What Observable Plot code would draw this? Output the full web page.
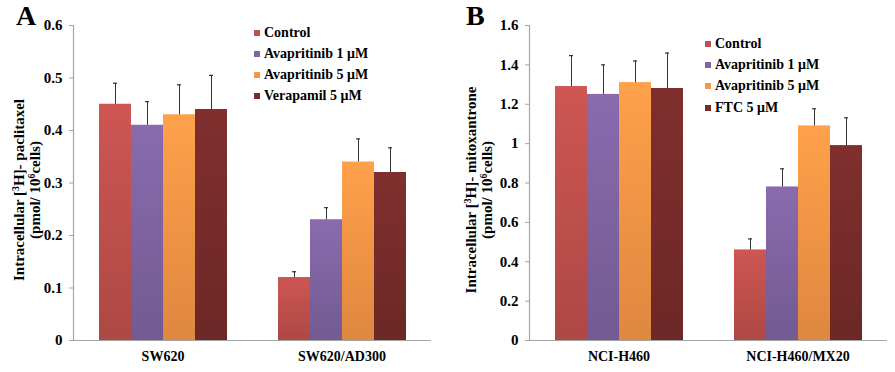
<!DOCTYPE html>
<html><head><meta charset="utf-8">
<script src="https://cdn.jsdelivr.net/npm/d3@7"></script>
<script src="https://cdn.jsdelivr.net/npm/@observablehq/plot@0.6"></script>
<style>
body{margin:0;background:#fff;font-family:"Liberation Serif","Times New Roman",serif;color:#000;}
#wrap{position:relative;width:895px;height:372px;overflow:hidden;}
.panel{position:absolute;top:0;height:372px;}
.letter{position:absolute;font-weight:bold;font-size:28px;line-height:1;}
.ylab{position:absolute;font-weight:bold;font-size:15px;line-height:16px;text-align:center;white-space:nowrap;transform:translate(-50%,-50%) rotate(-90deg);}
.ylab sup{font-size:0.65em;line-height:0;vertical-align:0.55em;}
.legend{position:absolute;font-weight:bold;font-size:14px;}
.legend .row{display:flex;align-items:center;height:21px;white-space:nowrap;}
.legend .sw{width:6px;height:6px;margin-right:4px;}
</style></head>
<body>
<div id="wrap"></div>
<script>
const groupsA = ["SW620", "SW620/AD300"];
const seriesA = ["Control", "Avapritinib 1 μM", "Avapritinib 5 μM", "Verapamil 5 μM"];
const valuesA = [[0.45, 0.41, 0.43, 0.44], [0.12, 0.23, 0.34, 0.32]];
const errorsA = [[0.04, 0.045, 0.057, 0.065], [0.011, 0.023, 0.044, 0.047]];
const yTicksA = [0, 0.1, 0.2, 0.3, 0.4, 0.5, 0.6];

const groupsB = ["NCI-H460", "NCI-H460/MX20"];
const seriesB = ["Control", "Avapritinib 1 μM", "Avapritinib 5 μM", "FTC 5 μM"];
const valuesB = [[1.29, 1.25, 1.31, 1.28], [0.46, 0.78, 1.09, 0.99]];
const errorsB = [[0.157, 0.15, 0.11, 0.18], [0.056, 0.092, 0.087, 0.141]];
const yTicksB = [0, 0.2, 0.4, 0.6, 0.8, 1, 1.2, 1.4, 1.6];

const colors = ["#c0504d", "#8064a2", "#f79646", "#772c2a"];

const wrap = d3.select("#wrap");
// gradient defs
const defs = wrap.append("svg").attr("width", 0).attr("height", 0)
  .style("position", "absolute").append("defs");
colors.forEach((c, i) => {
  const g = defs.append("linearGradient").attr("id", "g" + i)
    .attr("x1", 0).attr("y1", 0).attr("x2", 0).attr("y2", 1);
  g.append("stop").attr("offset", "0%").attr("stop-color", d3.color(c).brighter(0.2).formatHex());
  g.append("stop").attr("offset", "100%").attr("stop-color", d3.color(c).darker(0.3).formatHex());
});

function makePanel({groups, series, values, errors, ticks, width, marginLeft, marginRight}) {
  const rows = [];
  groups.forEach((g, i) => series.forEach((s, j) =>
    rows.push({group: g, series: s, value: values[i][j], err: errors[i][j]})));
  return Plot.plot({
    width, height: 372, marginLeft, marginRight, marginTop: 25, marginBottom: 32,
    style: {fontFamily: "'Liberation Serif', serif", fontSize: "14px", fontWeight: "bold", color: "#000", background: "transparent", overflow: "visible"},
    fx: {domain: groups, paddingInner: 0, paddingOuter: 0, label: null},
    x: {domain: series, paddingInner: 0, paddingOuter: 0.754, axis: null},
    y: {domain: [0, ticks[ticks.length - 1]], label: null},
    color: {domain: series, range: series.map((s, i) => `url(#g${i})`)},
    marks: [
      Plot.barY(rows, {fx: "group", x: "series", y: "value", fill: "series"}),
      Plot.ruleX(rows, {fx: "group", x: "series", y1: "value", y2: d => d.value + d.err, stroke: "#333", strokeWidth: 1}),
      Plot.tickY(rows, {fx: "group", x: "series", y: d => d.value + d.err, stroke: "#333", strokeWidth: 1.2, insetLeft: 14, insetRight: 14}),
      Plot.ruleY([0], {stroke: "#a6a6a6", strokeWidth: 1.2}),
      Plot.frame({anchor: "left", facetAnchor: "left", stroke: "#a6a6a6", strokeWidth: 1.2}),
      Plot.axisY({ticks, tickFormat: d => String(d), tickSize: 4, tickPadding: 7, stroke: "#a6a6a6", fontSize: 15, label: null}),
      Plot.axisFx({anchor: "bottom", tickSize: 0, tickPadding: 11, label: null})
    ]
  });
}

function legend(series, left, top, rowH) {
  const lg = wrap.append("div").attr("class", "legend").style("left", left + "px").style("top", top + "px");
  series.forEach((s, i) => {
    const r = lg.append("div").attr("class", "row").style("height", rowH + "px");
    r.append("div").attr("class", "sw").style("background", colors[i]);
    r.append("span").text(s);
  });
}

// Panel A
const pA = wrap.append("div").attr("class", "panel").style("left", "0px");
pA.node().appendChild(makePanel({groups: groupsA, series: seriesA, values: valuesA, errors: errorsA, ticks: yTicksA, width: 447, marginLeft: 73, marginRight: 16}));
// Panel B
const pB = wrap.append("div").attr("class", "panel").style("left", "447px");
pB.node().appendChild(makePanel({groups: groupsB, series: seriesB, values: valuesB, errors: errorsB, ticks: yTicksB, width: 448, marginLeft: 82, marginRight: 8}));

wrap.append("div").attr("class", "letter").style("left", "16px").style("top", "2px").text("A");
wrap.append("div").attr("class", "letter").style("left", "466px").style("top", "2px").text("B");

wrap.append("div").attr("class", "ylab").style("left", "27px").style("top", "190px")
  .html("Intracellular [<sup>3</sup>H]- paclitaxel<br>(pmol/ 10<sup>6</sup>cells)");
wrap.append("div").attr("class", "ylab").style("left", "479px").style("top", "190px")
  .html("Intracellular [<sup>3</sup>H]- mitoxantrone<br>(pmol/ 10<sup>6</sup>cells)");

legend(seriesA, 254, 22, 21);
legend(seriesB, 705, 33, 21.3);
</script>
</body></html>
